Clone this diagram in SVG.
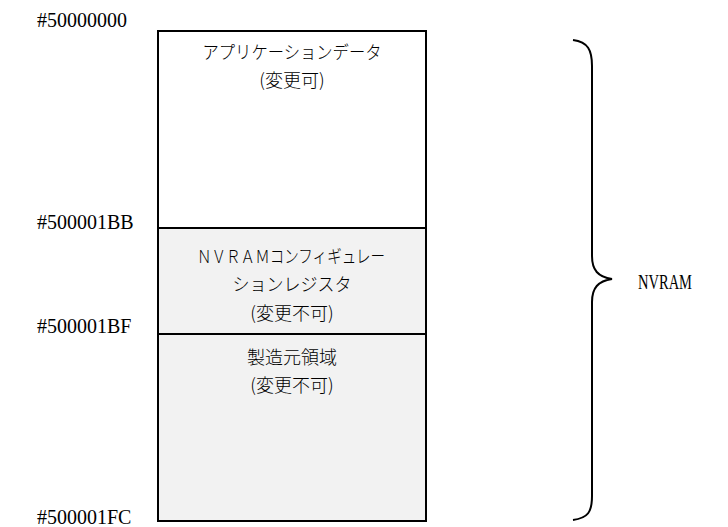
<svg xmlns="http://www.w3.org/2000/svg" width="728" height="527" viewBox="0 0 728 527">
<style>
.addr{font-family:"Liberation Serif",serif;font-size:20px;fill:#000}
.jp{font-family:"Noto Sans CJK JP","Noto Sans CJK SC",sans-serif;font-size:18px;fill:#000;text-anchor:middle;font-weight:300}
.sec{stroke:#000;stroke-width:2}
</style>
<rect width="728" height="527" fill="#fff"/>
<g id="labels">
<text class="addr" x="37" y="27">#50000000</text>
<text class="addr" x="37" y="229">#500001BB</text>
<text class="addr" x="37" y="333">#500001BF</text>
<text class="addr" x="37" y="524">#500001FC</text>
</g>
<g id="app">
<rect class="sec" x="158" y="31" width="268" height="197" fill="#fff"/>
<text class="jp" x="292" y="59" textLength="179" lengthAdjust="spacingAndGlyphs">アプリケーションデータ</text>
<text class="jp" x="292" y="87">(変更可)</text>
</g>
<g id="config">
<rect class="sec" x="158" y="228" width="268" height="106" fill="#f2f2f2"/>
<text class="jp" x="291" y="263" textLength="188" lengthAdjust="spacingAndGlyphs">ＮＶＲＡＭコンフィギュレー</text>
<text class="jp" x="292" y="291" textLength="119" lengthAdjust="spacingAndGlyphs">ションレジスタ</text>
<text class="jp" x="292" y="320">(変更不可)</text>
</g>
<g id="maker">
<rect class="sec" x="158" y="334" width="268" height="187" fill="#f2f2f2"/>
<text class="jp" x="292" y="364">製造元領域</text>
<text class="jp" x="292" y="392">(変更不可)</text>
</g>
<g id="connectors">
<path d="M573 40 C588 42 592 50 592 66 L592 256 C592 270 598 277 612 279 C598 281 592 288 592 302 L592 496 C592 512 588 518 573 520" fill="none" stroke="#000" stroke-width="2"/>
</g>
<g id="nvram">
<text x="638" y="289" font-family="Liberation Serif,serif" font-size="20" textLength="54" lengthAdjust="spacingAndGlyphs">NVRAM</text>
</g>
</svg>
